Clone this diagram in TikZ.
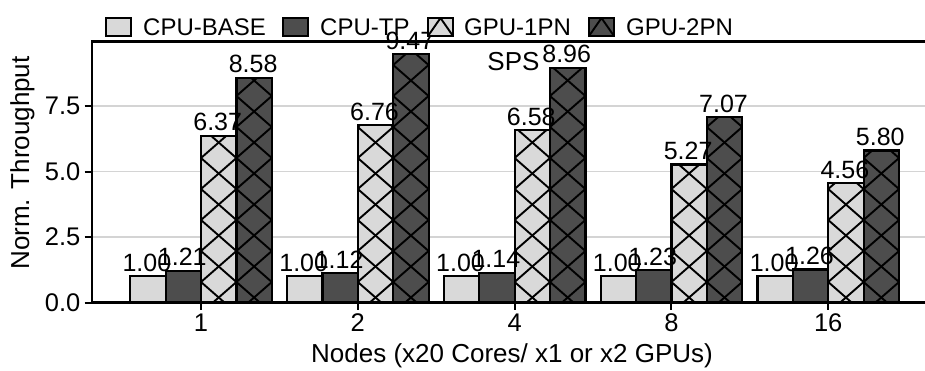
\documentclass[tikz,border=0pt]{standalone}
\usepackage{fontspec}
\setmainfont{Liberation Sans}
\definecolor{lightbar}{HTML}{D9D9D9}
\definecolor{darkbar}{HTML}{4D4D4D}
\definecolor{gridgray}{HTML}{D4D4D4}

% value -> vertical position (y axis points down, 1 unit = 1pt)
\newcommand\valy[1]{\pgfmathsetmacro\vy{302.5-#1*26.2}}

\tikzset{
  barline/.style={draw=black, line width=2.2pt},
  hatchline/.style={draw=black, line width=1.9pt},
  spine/.style={draw=black, line width=2.4pt},
  gridline/.style={draw=gridgray, line width=1.6pt},
  tickmark/.style={draw=black, line width=2pt},
  legtxt/.style={font=\fontsize{24}{28}\selectfont, inner sep=0pt},
  ticktxt/.style={font=\fontsize{25.5}{30}\selectfont, inner sep=0pt},
  axtxt/.style={font=\fontsize{26}{30}\selectfont, inner sep=0pt},
  vlab/.style={font=\fontsize{25}{29}\selectfont, inner sep=0pt, anchor=base},
}

% one bar: left edge, value, fill colour, hatched (1) or plain (0)
\newcommand\drawbar[4]{%
  \valy{#2}%
  \pgfmathsetmacro\bl{#1}%
  \pgfmathsetmacro\br{#1+35.4}%
  \pgfmathsetmacro\bc{#1+17.7}%
  \fill[#3] (\bl,302.5) rectangle (\br,\vy);
  \ifnum#4=1
    \begin{scope}
      \clip (\bl,302.5) rectangle (\br,\vy);
      \foreach \k in {0,...,10}{
        \pgfmathsetmacro\yk{297.5-\k*31}
        \draw[hatchline] (\bc-70.8,\yk+62) -- (\bc+70.8,\yk-62);
        \draw[hatchline] (\bc-70.8,\yk-62) -- (\bc+70.8,\yk+62);
      }
    \end{scope}
  \fi
  \draw[barline] (\bl,302.5) rectangle (\br,\vy);
}

% legend patch: left edge, fill colour, hatched (1) or plain (0)
\newcommand\legpatch[3]{%
  \fill[#2] (#1,18) rectangle (#1+25,36);
  \ifnum#3=1
    \begin{scope}
      \clip (#1,18) rectangle (#1+25,36);
      \draw[hatchline] (#1-6.25,45) -- (#1+12.5,18) -- (#1+31.25,45);
      \draw[hatchline] (#1+12.5,18) -- (#1-6.25,-9);
      \draw[hatchline] (#1+12.5,18) -- (#1+31.25,-9);
    \end{scope}
  \fi
  \draw[draw=black, line width=2pt] (#1,18) rectangle (#1+25,36);
}

\begin{document}
\begin{tikzpicture}[x=1pt,y=-1pt]
\useasboundingbox (0,0) rectangle (925,370);
\fill[white] (0,0) rectangle (925,370);

% horizontal grid
\foreach \v in {2.5,5.0,7.5,10.0}{
  \valy{\v}
  \draw[gridline] (92,\vy) -- (925,\vy);
}

% bars, one series at a time
\foreach \off/\fc/\hat/\vals in {
    -2/lightbar/0/{1.00,1.00,1.00,1.00,1.00},
    -1/darkbar/0/{1.21,1.12,1.14,1.23,1.26},
     0/lightbar/1/{6.37,6.76,6.58,5.27,4.56},
     1/darkbar/1/{8.58,9.47,8.96,7.07,5.80}}{
  \foreach \v [count=\i from 0] in \vals {
    \pgfmathsetmacro\left{201+\i*156.8+\off*35.4}
    \drawbar{\left}{\v}{\fc}{\hat}
  }
}

% axes frame
\draw[spine] (92,302.5) -- (92,41.5);
\draw[spine] (91,41.5) -- (925,41.5);
\draw[spine] (91,302.5) -- (925,302.5);

% y ticks and labels
\foreach \v/\nm in {0.0/y0,2.5/y1,5.0/y2,7.5/y3}{
  \valy{\v}
  \draw[tickmark] (84.5,\vy) -- (92,\vy);
  \node[ticktxt, anchor=east] (\nm) at (80.5,\vy) {\v};
}
\node[axtxt, rotate=90] (ylab) at (22.5,163) {Norm. Throughput};

% x ticks and labels
\foreach \g [count=\i from 0] in {1,2,4,8,16}{
  \pgfmathsetmacro\cx{201+\i*156.8}
  \draw[tickmark] (\cx,302.5) -- (\cx,310);
  \node[ticktxt, anchor=base] (x\i) at (\cx,331.5) {\g};
}
\node[axtxt, anchor=base] (xlab) at (512,362) {Nodes (x20 Cores/ x1 or x2 GPUs)};

% value labels above the bars
\foreach \off/\vals in {
    -2/{1.00,1.00,1.00,1.00,1.00},
    -1/{1.21,1.12,1.14,1.23,1.26},
     0/{6.37,6.76,6.58,5.27,4.56},
     1/{8.58,9.47,8.96,7.07,5.80}}{
  \foreach \v [count=\i from 0] in \vals {
    \pgfmathsetmacro\cx{201+\i*156.8+\off*35.4+17.7}
    \valy{\v}
    \node[vlab] (v\off-\i) at (\cx-1,\vy-5) {\v};
  }
}

\node[axtxt, anchor=base] (sps) at (513.5,70) {SPS};

% legend
\legpatch{106}{lightbar}{0}
\node[legtxt, anchor=base west] (lg1) at (143,35.5) {CPU-BASE};
\legpatch{283}{darkbar}{0}
\node[legtxt, anchor=base west] (lg2) at (320,35.5) {CPU-TP};
\legpatch{428}{lightbar}{1}
\node[legtxt, anchor=base west] (lg3) at (464,35.5) {GPU-1PN};
\legpatch{589}{darkbar}{1}
\node[legtxt, anchor=base west] (lg4) at (626,35.5) {GPU-2PN};
\end{tikzpicture}
\end{document}
